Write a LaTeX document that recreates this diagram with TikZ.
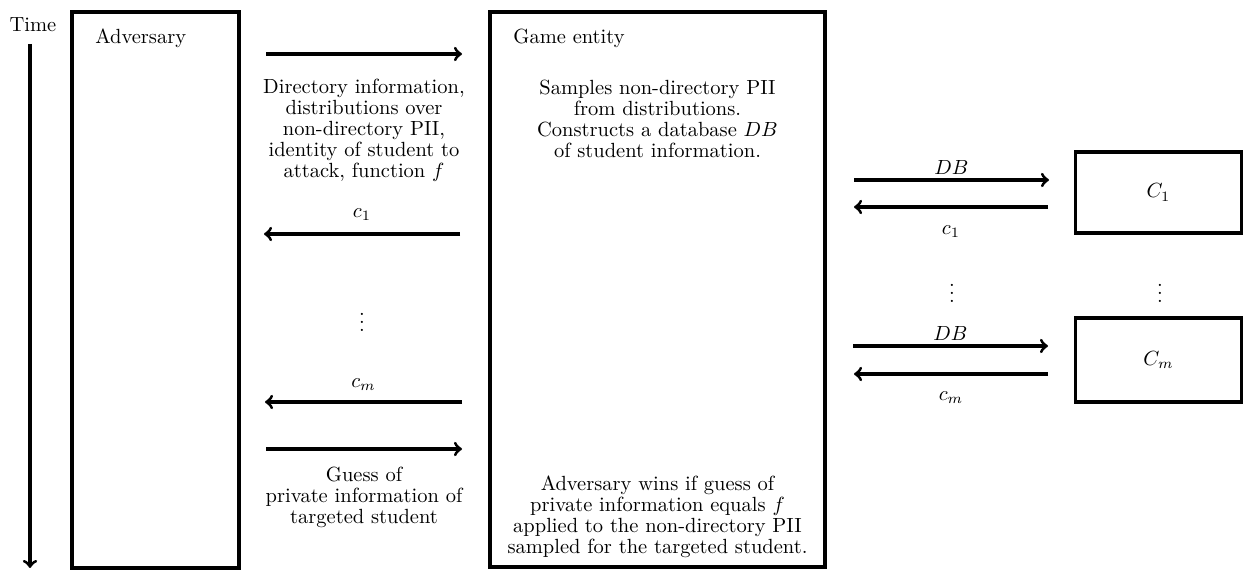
\documentclass[tikz,border=0pt]{standalone}
\begin{document}
\newcommand\pxl{0.4878pt}
\begin{tikzpicture}[x=0.4878pt, y=-0.4878pt,
  box/.style={draw, rectangle, line width=1.5pt, inner sep=0pt},
  msg/.style={line width=1.5pt, ->},
  txt/.style={align=center, inner sep=0pt, font=\fontsize{10}{10.2}\selectfont},
  lbl/.style={inner sep=0pt, anchor=center}]
\useasboundingbox (0,0) rectangle (1244,570);

% time axis
\node[lbl] (time) at (33,25) {Time};
\coordinate (t0) at (30,44);
\coordinate (t1) at (30,568);
\draw[msg] (t0) -- (t1);

% participants
\node[box, minimum width=167*\pxl, minimum height=556*\pxl] (adv) at (155.5,290) {};
\node[lbl, anchor=west] (advname) at (95,38) {Adversary};
\node[box, minimum width=335*\pxl, minimum height=555*\pxl] (game) at (657.5,289.5) {};
\node[lbl, anchor=west] (gamename) at (513,38) {Game entity};
\node[box, minimum width=166*\pxl, minimum height=81*\pxl] (c1) at (1158.5,192.5) {$C_1$};
\node[box, minimum width=166*\pxl, minimum height=84*\pxl] (cm) at (1158.5,360) {$C_m$};

% text inside the game entity
\node[txt] (samples) at (657.5,119) {Samples non-directory PII\\from distributions.\\Constructs a database $DB$\\of student information.};
\node[txt] (wins) at (657.5,517) {Adversary wins if guess of\\private information equals $f$\\applied to the non-directory PII\\sampled for the targeted student.};

% adversary <-> game entity
\coordinate (a1) at (266,54);  \coordinate (g1) at (462,54);
\coordinate (a2) at (264,234); \coordinate (g2) at (460,234);
\coordinate (a3) at (265,402); \coordinate (g3) at (462,402);
\coordinate (a4) at (266,449); \coordinate (g4) at (462,449);
\draw[msg] (a1) -- (g1);
\node[txt] (dirinfo) at (364,130) {Directory information,\\distributions over\\non-directory PII,\\identity of student to\\attack, function $f$};
\draw[msg] (g2) -- node[lbl, yshift=19*\pxl] (lc1) {$c_1$} (a2);
\node[lbl] (ldots) at (362,316) {$\vdots$};
\draw[msg] (g3) -- node[lbl, yshift=17*\pxl] (lcm) {$c_m$} (a3);
\draw[msg] (a4) -- (g4);
\node[txt] (guess) at (364,497) {Guess of\\private information of\\targeted student};

% game entity <-> C_1 ... C_m
\coordinate (e1) at (854,180); \coordinate (k1) at (1049,180);
\coordinate (e2) at (854,207); \coordinate (k2) at (1048,207);
\coordinate (e3) at (853,346); \coordinate (k3) at (1048,346);
\coordinate (e4) at (854,374); \coordinate (k4) at (1048,374);
\draw[msg] (e1) -- node[lbl, yshift=12*\pxl] (ldb1) {$DB$} (k1);
\draw[msg] (k2) -- node[lbl, yshift=-25*\pxl] (rc1) {$c_1$} (e2);
\node[lbl] (rdots) at (952,287) {$\vdots$};
\node[lbl] (cdots) at (1160,287) {$\vdots$};
\draw[msg] (e3) -- node[lbl, yshift=13*\pxl] (ldb2) {$DB$} (k3);
\draw[msg] (k4) -- node[lbl, yshift=-24*\pxl] (rcm) {$c_m$} (e4);
\end{tikzpicture}
\end{document}
